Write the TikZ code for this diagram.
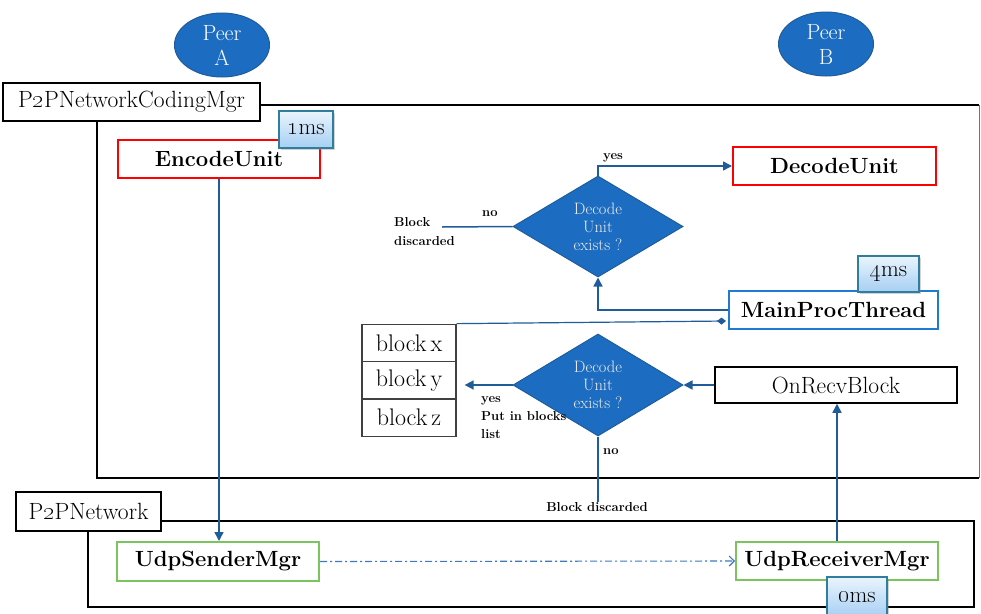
\documentclass[tikz,border=0pt]{standalone}
\usetikzlibrary{arrows.meta,shapes.geometric,shadows}
\definecolor{peerblue}{HTML}{1C6DC1}
\definecolor{linkblue}{HTML}{1F5C99}
\definecolor{boxred}{HTML}{FF0000}
\definecolor{boxgreen}{HTML}{7CC45E}
\definecolor{procblue}{HTML}{1E7BCF}
\definecolor{msedge}{HTML}{2E7E9C}
\definecolor{mstop}{HTML}{EAF4FD}
\definecolor{msbottom}{HTML}{A6CFF3}
\definecolor{dashblue}{HTML}{3F78BD}
\begin{document}
\begin{tikzpicture}[x=1pt,y=-1pt,
  peer/.style={ellipse, fill=peerblue, draw=linkblue, line width=1pt, text=white, minimum width=95, minimum height=64, inner sep=0pt, align=center, font=\fontsize{22}{25}\selectfont},
  tag/.style={rectangle, draw=black, line width=2.5pt, fill=white, inner sep=0pt, font=\fontsize{23.5}{26}\selectfont},
  unit/.style={rectangle, line width=2pt, fill=white, inner sep=0pt, font=\bfseries\fontsize{22}{26}\selectfont},
  plain/.style={rectangle, draw=black, line width=1.5pt, fill=white, inner sep=0pt, font=\fontsize{23.5}{26}\selectfont},
  cell/.style={rectangle, draw=black!75, line width=1.2pt, minimum width=94, minimum height=37.5, inner sep=0pt, font=\fontsize{24}{26}\selectfont},
  timing/.style={rectangle, draw=msedge, line width=1.2pt, top color=mstop, bottom color=msbottom, drop shadow={opacity=0.35, shadow xshift=1.5pt, shadow yshift=-2pt}, inner sep=0pt, font=\fontsize{23}{25}\selectfont},
  check/.style={diamond, aspect=1.68, fill=peerblue, draw=linkblue, line width=1pt, text=white!92!black, align=center, inner sep=0pt, minimum width=170, minimum height=101, font=\fontsize{16.5}{18}\selectfont},
  note/.style={align=left, inner sep=0pt, font=\bfseries\fontsize{13}{18}\selectfont},
  link/.style={draw=linkblue, line width=1.5pt},
  tip/.style={-{Triangle[length=9pt,width=9pt]}}
]
\useasboundingbox (0,0) rectangle (981,613);
\node [peer] (peerA) at (222,45) {Peer\\A};
\node [peer] (peerB) at (826,44) {Peer\\B};
\draw [line width=2.5pt] (979,105) -- (97,105) -- (97,478) -- (979,478);
\draw [black!55, line width=0.8pt] (979,105) -- (979,478);
\draw [line width=2.5pt] (88,521) rectangle (974,607);
\node [tag, minimum width=257, minimum height=38] (codingmgr) at (131.5,102) {P\oldstylenums{2}PNetworkCodingMgr};
\node [tag, minimum width=145, minimum height=39] (network) at (88.5,511.5) {P\oldstylenums{2}PNetwork};
\node [unit, draw=boxred, minimum width=202, minimum height=38] (enc) at (219,159) {EncodeUnit};
\node [timing, minimum width=54, minimum height=37] (t1) at (306,129.5) {\oldstylenums{1}ms};
\node [unit, draw=boxred, minimum width=203, minimum height=38] (dec) at (834.5,166) {DecodeUnit};
\node [check] (q1) at (598,226.5) {Decode\\Unit\\exists ?};
\node [unit, draw=procblue, minimum width=209, minimum height=38] (main) at (833.5,310) {MainProcThread};
\node [timing, minimum width=61, minimum height=36] (t4) at (888.5,274) {\oldstylenums{4}ms};
\node [cell] (bx) at (409,343) {block\,x};
\node [cell] (by) at (409,380.5) {block\,y};
\node [cell] (bz) at (409,417.5) {block\,z};
\node [check, minimum height=102] (q2) at (598,385) {Decode\\Unit\\exists ?};
\node [plain, minimum width=242, minimum height=36] (recv) at (836,385) {OnRecvBlock};
\node [unit, draw=boxgreen, minimum width=202, minimum height=39] (tx) at (218,561.5) {UdpSenderMgr};
\node [unit, draw=boxgreen, minimum width=202, minimum height=38] (rx) at (837,561) {UdpReceiverMgr};
\node [timing, minimum width=60, minimum height=40] (t0) at (857,597) {\oldstylenums{0}ms};
\node [note, anchor=base west] (yes1) at (603,159) {yes};
\node [note, anchor=base west] (no1) at (482,216) {no};
\node [note, anchor=north west, font=\bfseries\fontsize{13}{19}\selectfont] (drop1) at (394,217) {Block\\discarded};
\coordinate (nodrop) at (442,227);
\node [note, anchor=north west] (yes2) at (481,396) {yes\\Put in blocks\\list};
\node [note, anchor=base west] (no2) at (603,454) {no};
\node [note] (drop2) at (597,507) {Block discarded};
\draw [link, tip] (enc.south) -- (enc.south |- tx.north);
\draw [dashblue, line width=1.1pt, dash pattern=on 7pt off 3pt on 2pt off 3pt, -{Straight Barb[length=5pt,width=10pt]}] (tx.east) -- (rx.west);
\draw [link, tip] (rx.north) -- (rx.north |- recv.south);
\draw [link, tip] (recv.west) -- (q2.east);
\draw [link, tip, shorten >=8pt] (q2.west) -- (q2.west -| by.east);
\draw [link] (q2.south) -- (q2.south |- drop2.north);
\draw [link, tip] (main.west) -| (q1.south);
\draw [link, tip] (q1.north) |- (dec.west);
\draw [link] (q1.west) -- (nodrop);
\draw [linkblue, line width=1.2pt, -{Diamond[length=9pt,width=7pt]}] (bx.north east) -- ([xshift=-2,yshift=-11]main.west);
\end{tikzpicture}
\end{document}
